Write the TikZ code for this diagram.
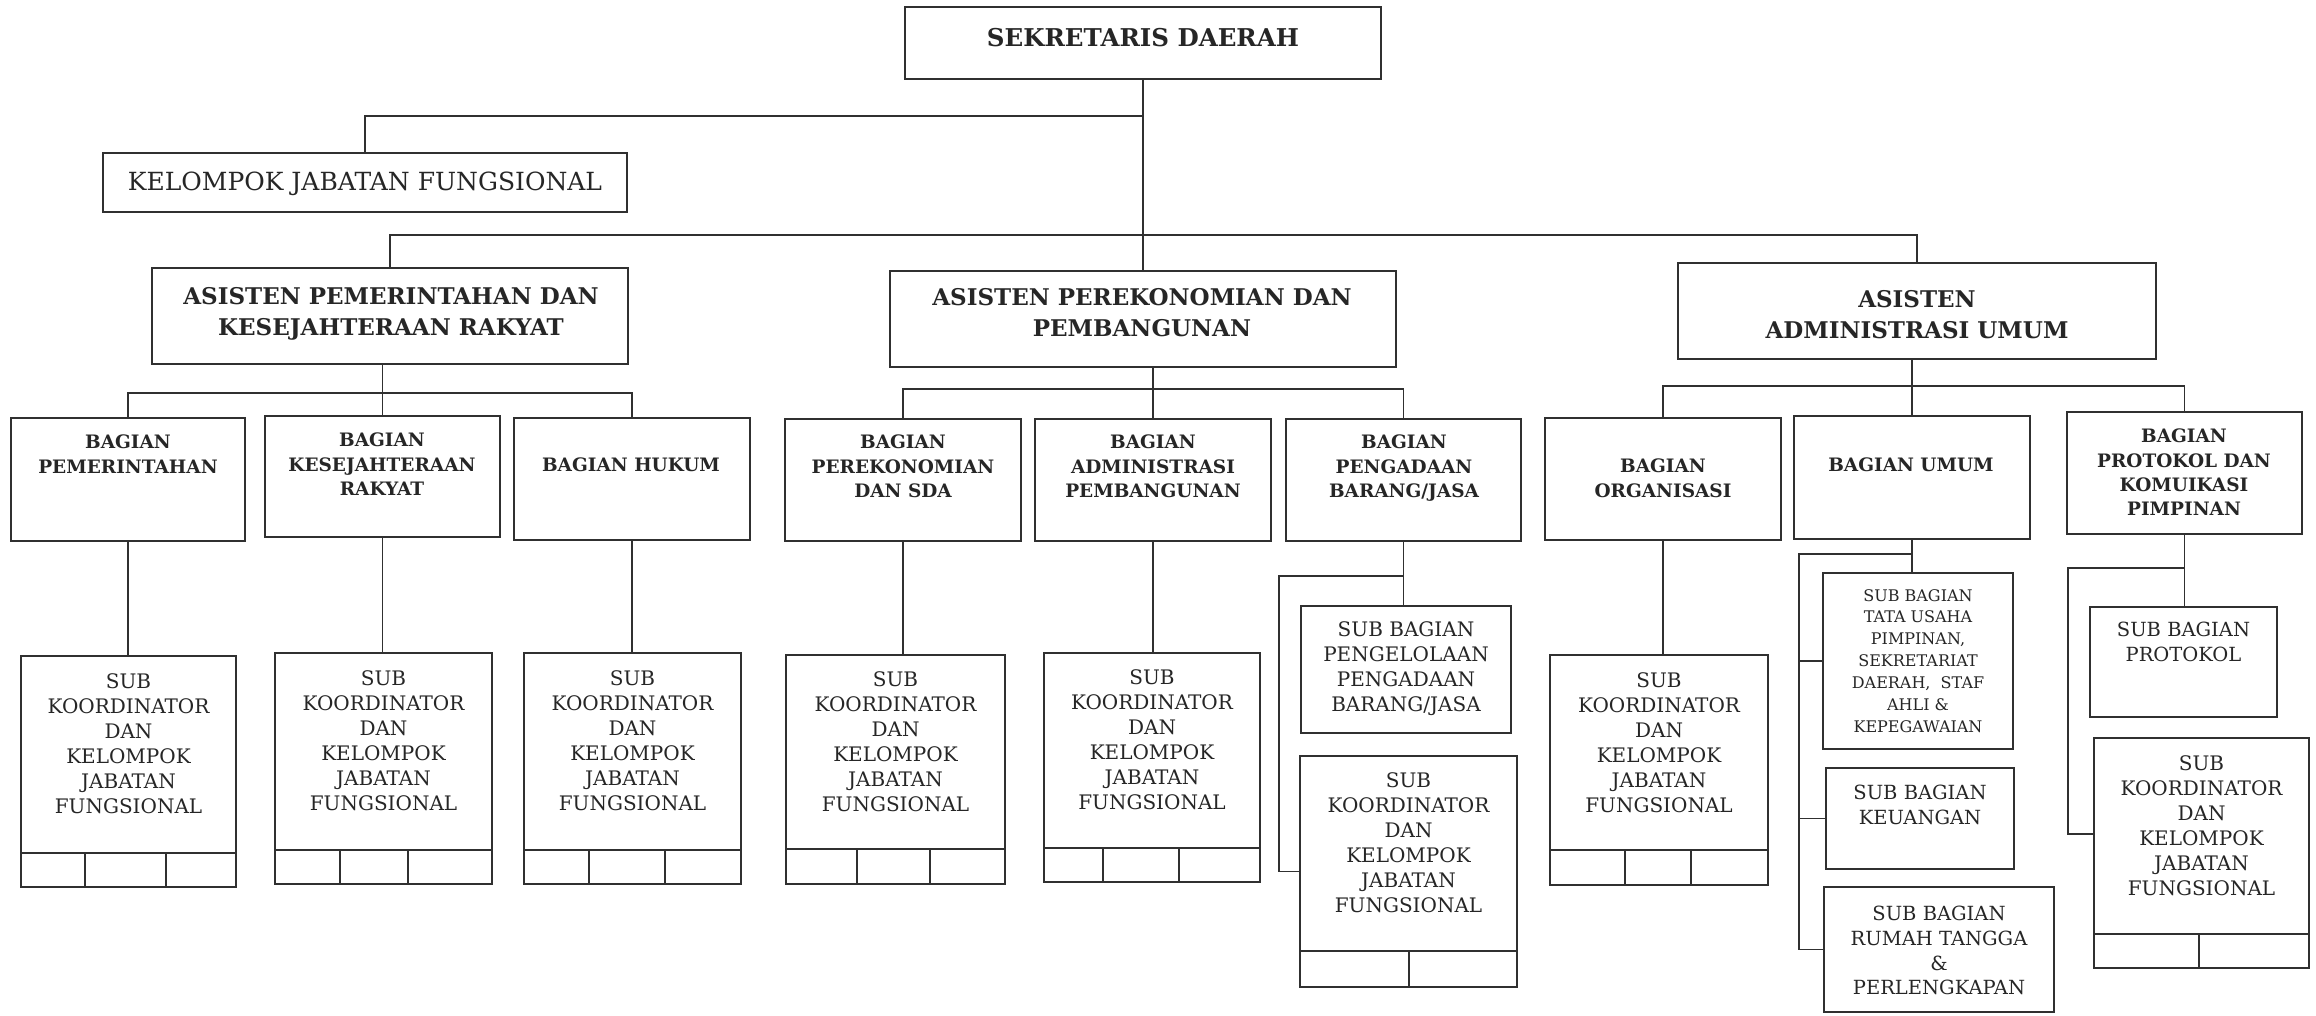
\documentclass[tikz,border=0pt]{standalone}
\usepackage{fontspec}
\setmainfont{DejaVu Serif}
\definecolor{lc}{HTML}{303030}
\definecolor{tc}{HTML}{262626}
\tikzset{
  box/.style={draw=lc,line width=1.6pt,inner sep=0pt,rectangle},
  conn/.style={draw=lc,line width=1.4pt},
  cell/.style={draw=lc,line width=1.4pt},
  txt/.style={inner sep=0pt,anchor=north,align=center,text=tc},
}
\newcommand\mkbox[5]{\node[box,minimum width={(#4-#2)*1pt},minimum height={(#5-#3)*1pt}] (#1) at ({(#2+#4)/2},{(#3+#5)/2}) {};}
\newcommand\mkcells[5]{\draw[cell] (#1,#3) -- (#2,#3); \foreach \cx in {#5} {\draw[cell] (\cx,#3) -- (\cx,#4);}}
\newcommand\fTop{\fontsize{24.5}{28}\selectfont\bfseries}
\newcommand\fAs{\fontsize{23}{31}\selectfont\bfseries}
\newcommand\fBg{\fontsize{18.5}{24.3}\selectfont\bfseries}
\newcommand\fKjf{\fontsize{25}{30}\selectfont}
\newcommand\fSk{\fontsize{20}{25}\selectfont}
\newcommand\fTu{\fontsize{16}{21.9}\selectfont}
\newcommand\fSb{\fontsize{19.5}{24.7}\selectfont}
\begin{document}
\begin{tikzpicture}[x=1pt,y=-1pt]
\useasboundingbox[fill=white] (0,0) rectangle (2316,1015);
% level 1-2
\mkbox{sekda}{905}{7}{1381}{79}
\mkbox{kjf}{103}{153}{627}{212}
\mkbox{aPKR}{152}{268}{628}{364}
\mkbox{aPP}{890}{271}{1396}{367}
\mkbox{aAU}{1678}{263}{2156}{359}
% level 3
\mkbox{bPem}{11}{418}{245}{541}
\mkbox{bKes}{265}{416}{500}{537}
\mkbox{bHuk}{514}{418}{750}{540}
\mkbox{bPer}{785}{419}{1021}{541}
\mkbox{bAdm}{1035}{419}{1271}{541}
\mkbox{bPeng}{1286}{419}{1521}{541}
\mkbox{bOrg}{1545}{418}{1781}{540}
\mkbox{bUmum}{1794}{416}{2030}{539}
\mkbox{bProt}{2067}{412}{2302}{534}
% level 4
\mkbox{sPem}{21}{656}{236}{887}
\mkbox{sKes}{275}{653}{492}{884}
\mkbox{sHuk}{524}{653}{741}{884}
\mkbox{sPer}{786}{655}{1005}{884}
\mkbox{sAdm}{1044}{653}{1260}{882}
\mkbox{sbPg}{1301}{606}{1511}{733}
\mkbox{skPg}{1300}{756}{1517}{987}
\mkbox{sOrg}{1550}{655}{1768}{885}
\mkbox{sbTU}{1823}{573}{2013}{749}
\mkbox{sbKeu}{1826}{768}{2014}{869}
\mkbox{sbRT}{1824}{887}{2054}{1012}
\mkbox{sbPr}{2090}{607}{2277}{717}
\mkbox{skPr}{2094}{738}{2309}{968}
% cells
\mkcells{21}{236}{853}{887}{85,166}
\mkcells{275}{492}{850}{884}{340,408}
\mkcells{524}{741}{850}{884}{589,665}
\mkcells{786}{1005}{849}{884}{857,930}
\mkcells{1044}{1260}{848}{882}{1103,1179}
\mkcells{1300}{1517}{951}{987}{1409}
\mkcells{1550}{1768}{850}{885}{1625,1691}
\mkcells{2094}{2309}{934}{968}{2199}
% connectors
\coordinate (bus1) at (0,116);
\coordinate (bus2) at (0,235);
\coordinate (bus3a) at (0,393);
\coordinate (bus3b) at (0,389);
\coordinate (bus3c) at (0,386);
\coordinate (pgL) at (1279,576);
\coordinate (umL) at (1799,554);
\coordinate (prL) at (2068,568);
\coordinate (prS) at (2068,834);
\draw[conn] (sekda.south) -- (aPP.north);
\draw[conn] (kjf.north) |- (bus1 -| sekda.south);
\draw[conn] (aPKR.north) |- (bus2 -| aAU.north) -- (aAU.north);
\draw[conn] (aPKR.south -| bKes.north) -- (bKes.north);
\draw[conn] (bPem.north) |- (bus3a -| bHuk.north) -- (bHuk.north);
\draw[conn] (aPP.south -| bAdm.north) -- (bAdm.north);
\draw[conn] (bPer.north) |- (bus3b -| bPeng.north) -- (bPeng.north);
\draw[conn] (aAU.south -| bUmum.north) -- (bUmum.north);
\draw[conn] (bOrg.north) |- (bus3c -| bProt.north) -- (bProt.north);
\draw[conn] (bPem.south) -- (bPem.south |- sPem.north);
\draw[conn] (bKes.south) -- (bKes.south |- sKes.north);
\draw[conn] (bHuk.south) -- (bHuk.south |- sHuk.north);
\draw[conn] (bPer.south) -- (bPer.south |- sPer.north);
\draw[conn] (bAdm.south) -- (bAdm.south |- sAdm.north);
\draw[conn] (bOrg.south) -- (bOrg.south |- sOrg.north);
\draw[conn] (bPeng.south) -- (bPeng.south |- sbPg.north);
\draw[conn] (bPeng.south |- pgL) -- (pgL) |- (skPg.west);
\draw[conn] (bUmum.south) -- (bUmum.south |- sbTU.north);
\draw[conn] (bUmum.south |- umL) -- (umL) |- (sbRT.west);
\draw[conn] (umL |- sbTU.west) -- (sbTU.west);
\draw[conn] (umL |- sbKeu.west) -- (sbKeu.west);
\draw[conn] (bProt.south) -- (bProt.south |- sbPr.north);
\draw[conn] (bProt.south |- prL) -- (prL) -- (prS) -- (prS -| skPr.west);
% texts
\node[txt,font=\fTop] (t-sekda) at (1143,28) {SEKRETARIS DAERAH};
\node[txt,font=\fKjf] (t-kjf) at (365,172) {KELOMPOK JABATAN FUNGSIONAL};
\node[txt,font=\fAs] (t-aPKR) at (391,287) {ASISTEN PEMERINTAHAN DAN\\KESEJAHTERAAN RAKYAT};
\node[txt,font=\fAs] (t-aPP) at (1142,288) {ASISTEN PEREKONOMIAN DAN\\PEMBANGUNAN};
\node[txt,font=\fAs] (t-aAU) at (1917,290) {ASISTEN\\ADMINISTRASI UMUM};
\node[txt,font=\fBg] (t-bPem) at (128,435) {BAGIAN\\PEMERINTAHAN};
\node[txt,font=\fBg] (t-bKes) at (382,433) {BAGIAN\\KESEJAHTERAAN\\RAKYAT};
\node[txt,font=\fBg] (t-bHuk) at (631,458) {BAGIAN HUKUM};
\node[txt,font=\fBg] (t-bPer) at (903,435) {BAGIAN\\PEREKONOMIAN\\DAN SDA};
\node[txt,font=\fBg] (t-bAdm) at (1153,435) {BAGIAN\\ADMINISTRASI\\PEMBANGUNAN};
\node[txt,font=\fBg] (t-bPeng) at (1404,435) {BAGIAN\\PENGADAAN\\BARANG/JASA};
\node[txt,font=\fBg] (t-bOrg) at (1663,459) {BAGIAN\\ORGANISASI};
\node[txt,font=\fBg] (t-bUmum) at (1911,458) {BAGIAN UMUM};
\node[txt,font=\fBg] (t-bProt) at (2184,429) {BAGIAN\\PROTOKOL DAN\\KOMUIKASI\\PIMPINAN};
\node[txt,font=\fSk] (t-sPem) at (128.5,673) {SUB\\KOORDINATOR\\DAN\\KELOMPOK\\JABATAN\\FUNGSIONAL};
\node[txt,font=\fSk] (t-sKes) at (383.5,670) {SUB\\KOORDINATOR\\DAN\\KELOMPOK\\JABATAN\\FUNGSIONAL};
\node[txt,font=\fSk] (t-sHuk) at (632.5,670) {SUB\\KOORDINATOR\\DAN\\KELOMPOK\\JABATAN\\FUNGSIONAL};
\node[txt,font=\fSk] (t-sPer) at (895.5,671) {SUB\\KOORDINATOR\\DAN\\KELOMPOK\\JABATAN\\FUNGSIONAL};
\node[txt,font=\fSk] (t-sAdm) at (1152,669) {SUB\\KOORDINATOR\\DAN\\KELOMPOK\\JABATAN\\FUNGSIONAL};
\node[txt,font=\fSk] (t-skPg) at (1408.5,772) {SUB\\KOORDINATOR\\DAN\\KELOMPOK\\JABATAN\\FUNGSIONAL};
\node[txt,font=\fSk] (t-sOrg) at (1659,672) {SUB\\KOORDINATOR\\DAN\\KELOMPOK\\JABATAN\\FUNGSIONAL};
\node[txt,font=\fSk] (t-skPr) at (2201.5,755) {SUB\\KOORDINATOR\\DAN\\KELOMPOK\\JABATAN\\FUNGSIONAL};
\node[txt,font=\fSk] (t-sbPg) at (1406,621) {SUB BAGIAN\\PENGELOLAAN\\PENGADAAN\\BARANG/JASA};
\node[txt,font=\fTu] (t-sbTU) at (1918,589) {SUB BAGIAN\\TATA USAHA\\PIMPINAN,\\SEKRETARIAT\\DAERAH, \ STAF\\AHLI \&\\KEPEGAWAIAN};
\node[txt,font=\fSb] (t-sbKeu) at (1920,785) {SUB BAGIAN\\KEUANGAN};
\node[txt,font=\fSb] (t-sbRT) at (1939,906) {SUB BAGIAN\\RUMAH TANGGA\\\&\\PERLENGKAPAN};
\node[txt,font=\fSb] (t-sbPr) at (2183.5,622) {SUB BAGIAN\\PROTOKOL};
\end{tikzpicture}
\end{document}
